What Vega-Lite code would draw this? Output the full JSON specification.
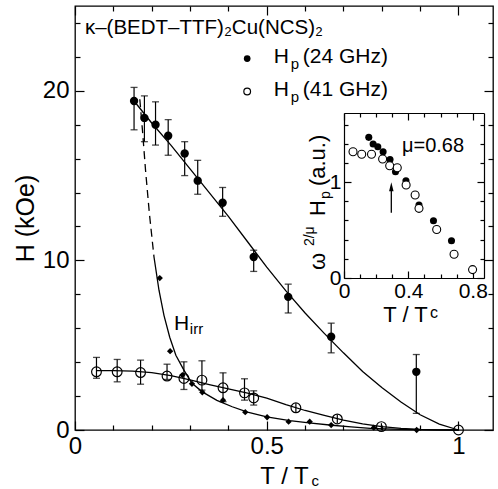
{
  "$schema": "https://vega.github.io/schema/vega-lite/v6.json",
  "background": "white",
  "padding": {"left": 13, "top": 5, "right": 2, "bottom": 2},
  "width": 418,
  "height": 424,
  "config": {
    "font": "Liberation Sans",
    "view": {"stroke": "black", "strokeWidth": 1.3},
    "axis": {"labelFont": "Liberation Sans", "titleFont": "Liberation Sans", "labelColor": "black", "titleColor": "black", "tickColor": "black", "tickWidth": 1.2, "titleFontWeight": "normal", "domain": false, "grid": false, "labelOverlap": false, "labelBound": false, "labelFlush": false, "domainColor": "black", "domainWidth": 1.2}
  },
  "datasets": {
    "curves": [
      {"t": 0.154, "h": 19.4, "c": "f24"}, {"t": 0.2, "h": 18.1, "c": "f24"}, {"t": 0.25, "h": 16.8, "c": "f24"}, {"t": 0.3, "h": 15.4, "c": "f24"}, {"t": 0.35, "h": 14.0, "c": "f24"}, {"t": 0.4, "h": 12.6, "c": "f24"}, {"t": 0.45, "h": 11.1, "c": "f24"}, {"t": 0.5, "h": 9.6, "c": "f24"}, {"t": 0.55, "h": 8.2, "c": "f24"}, {"t": 0.6, "h": 6.9, "c": "f24"}, {"t": 0.65, "h": 5.7, "c": "f24"}, {"t": 0.7, "h": 4.55, "c": "f24"}, {"t": 0.75, "h": 3.45, "c": "f24"}, {"t": 0.8, "h": 2.5, "c": "f24"}, {"t": 0.85, "h": 1.65, "c": "f24"}, {"t": 0.9, "h": 0.9, "c": "f24"}, {"t": 0.95, "h": 0.35, "c": "f24"}, {"t": 1.0, "h": 0.0, "c": "f24"},
      {"t": 0.056, "h": 3.5, "c": "f41"}, {"t": 0.1, "h": 3.5, "c": "f41"}, {"t": 0.15, "h": 3.47, "c": "f41"}, {"t": 0.2, "h": 3.38, "c": "f41"}, {"t": 0.25, "h": 3.2, "c": "f41"}, {"t": 0.3, "h": 2.95, "c": "f41"}, {"t": 0.35, "h": 2.68, "c": "f41"}, {"t": 0.4, "h": 2.42, "c": "f41"}, {"t": 0.45, "h": 2.17, "c": "f41"}, {"t": 0.5, "h": 1.88, "c": "f41"}, {"t": 0.55, "h": 1.5, "c": "f41"}, {"t": 0.6, "h": 1.15, "c": "f41"}, {"t": 0.65, "h": 0.86, "c": "f41"}, {"t": 0.7, "h": 0.58, "c": "f41"}, {"t": 0.75, "h": 0.36, "c": "f41"}, {"t": 0.8, "h": 0.2, "c": "f41"}, {"t": 0.85, "h": 0.1, "c": "f41"}, {"t": 0.9, "h": 0.04, "c": "f41"}, {"t": 0.95, "h": 0.01, "c": "f41"}, {"t": 1.0, "h": 0.0, "c": "f41"},
      {"t": 0.206, "h": 10.2, "c": "hirr"}, {"t": 0.219, "h": 8.24, "c": "hirr"}, {"t": 0.232, "h": 6.76, "c": "hirr"}, {"t": 0.247, "h": 5.47, "c": "hirr"}, {"t": 0.263, "h": 4.41, "c": "hirr"}, {"t": 0.284, "h": 3.53, "c": "hirr"}, {"t": 0.305, "h": 2.75, "c": "hirr"}, {"t": 0.332, "h": 2.25, "c": "hirr"}, {"t": 0.37, "h": 1.75, "c": "hirr"}, {"t": 0.41, "h": 1.37, "c": "hirr"}, {"t": 0.45, "h": 1.05, "c": "hirr"}, {"t": 0.5, "h": 0.78, "c": "hirr"}, {"t": 0.56, "h": 0.55, "c": "hirr"}, {"t": 0.61, "h": 0.42, "c": "hirr"}, {"t": 0.67, "h": 0.28, "c": "hirr"}, {"t": 0.72, "h": 0.18, "c": "hirr"}, {"t": 0.77, "h": 0.1, "c": "hirr"}, {"t": 0.85, "h": 0.04, "c": "hirr"}, {"t": 0.92, "h": 0.01, "c": "hirr"}, {"t": 1.0, "h": 0.0, "c": "hirr"},
      {"t": 0.169, "h": 19.5, "c": "hirrdash"}, {"t": 0.176, "h": 17.65, "c": "hirrdash"}, {"t": 0.184, "h": 15.3, "c": "hirrdash"}, {"t": 0.194, "h": 12.76, "c": "hirrdash"}, {"t": 0.206, "h": 10.2, "c": "hirrdash"}
    ],
    "err": [
      {"t": 0.154, "lo": 17.7, "hi": 20.2, "cap": true}, {"t": 0.181, "lo": 17.0, "hi": 19.7, "cap": true}, {"t": 0.21, "lo": 16.8, "hi": 19.35, "cap": true}, {"t": 0.243, "lo": 16.2, "hi": 18.3, "cap": true}, {"t": 0.286, "lo": 15.0, "hi": 17.0, "cap": true}, {"t": 0.32, "lo": 13.9, "hi": 15.9, "cap": true}, {"t": 0.385, "lo": 12.6, "hi": 14.3, "cap": true}, {"t": 0.466, "lo": 9.35, "hi": 10.6, "cap": true}, {"t": 0.556, "lo": 6.9, "hi": 8.6, "cap": true}, {"t": 0.668, "lo": 4.55, "hi": 6.3, "cap": true}, {"t": 0.89, "lo": 0.98, "hi": 4.45, "cap": true},
      {"t": 0.056, "lo": 3.05, "hi": 4.28, "cap": true}, {"t": 0.11, "lo": 2.84, "hi": 4.16, "cap": true}, {"t": 0.171, "lo": 2.7, "hi": 4.12, "cap": true}, {"t": 0.24, "lo": 2.98, "hi": 3.88, "cap": true}, {"t": 0.284, "lo": 2.39, "hi": 4.02, "cap": true}, {"t": 0.331, "lo": 2.35, "hi": 4.08, "cap": true}, {"t": 0.386, "lo": 1.67, "hi": 3.37, "cap": true}, {"t": 0.442, "lo": 1.76, "hi": 3.02, "cap": true}, {"t": 0.466, "lo": 1.47, "hi": 2.31, "cap": true}, {"t": 0.576, "lo": 1.05, "hi": 1.57, "cap": false}, {"t": 0.684, "lo": 0.4, "hi": 0.9, "cap": false}, {"t": 0.799, "lo": 0.0, "hi": 0.4, "cap": false}
    ],
    "pts24": [
      {"t": 0.154, "h": 19.4}, {"t": 0.181, "h": 18.4}, {"t": 0.21, "h": 18.0}, {"t": 0.243, "h": 17.35}, {"t": 0.286, "h": 16.3}, {"t": 0.32, "h": 14.7}, {"t": 0.385, "h": 13.4}, {"t": 0.466, "h": 10.2}, {"t": 0.556, "h": 7.85}, {"t": 0.668, "h": 5.5}, {"t": 0.89, "h": 3.43}
    ],
    "pts41": [
      {"t": 0.056, "h": 3.43}, {"t": 0.11, "h": 3.43}, {"t": 0.171, "h": 3.39}, {"t": 0.24, "h": 3.18}, {"t": 0.284, "h": 3.04}, {"t": 0.331, "h": 2.94}, {"t": 0.386, "h": 2.49}, {"t": 0.442, "h": 2.19}, {"t": 0.466, "h": 1.89}, {"t": 0.576, "h": 1.31}, {"t": 0.684, "h": 0.65}, {"t": 0.799, "h": 0.2}, {"t": 1.0, "h": 0.0}
    ],
    "diam": [
      {"t": 0.221, "h": 8.96}, {"t": 0.248, "h": 4.65}, {"t": 0.28, "h": 3.24}, {"t": 0.305, "h": 2.72}, {"t": 0.332, "h": 2.22}, {"t": 0.386, "h": 1.76}, {"t": 0.444, "h": 1.05}, {"t": 0.501, "h": 0.75}, {"t": 0.557, "h": 0.49}, {"t": 0.612, "h": 0.49}, {"t": 0.668, "h": 0.29}, {"t": 0.779, "h": 0.14}, {"t": 0.891, "h": 0.0}
    ],
    "legend24": [{"t": 0.449, "h": 21.9}],
    "legend41": [{"t": 0.449, "h": 19.96}],
    "txtTitle": [{"t": 0.026, "h": 23.35, "txt": "κ–(BEDT–TTF)₂Cu(NCS)₂"}],
    "txtBig": [
      {"t": 0.518, "h": 21.65, "txt": "H"}, {"t": 0.594, "h": 21.65, "txt": "(24 GHz)"},
      {"t": 0.518, "h": 19.7, "txt": "H"}, {"t": 0.594, "h": 19.7, "txt": "(41 GHz)"},
      {"t": 0.258, "h": 5.88, "txt": "H"}
    ],
    "txtSmall": [
      {"t": 0.5625, "h": 21.3, "txt": "p"}, {"t": 0.5625, "h": 19.35, "txt": "p"},
      {"t": 0.2995, "h": 5.65, "txt": "irr"}, {"t": 0.617, "h": -3.3, "txt": "c"}
    ],
    "inset24": [
      {"t": 0.154, "v": 1.466}, {"t": 0.181, "v": 1.396}, {"t": 0.21, "v": 1.368}, {"t": 0.243, "v": 1.316}, {"t": 0.286, "v": 1.236}, {"t": 0.32, "v": 1.107}, {"t": 0.385, "v": 1.013}, {"t": 0.466, "v": 0.76}, {"t": 0.556, "v": 0.597}, {"t": 0.668, "v": 0.389}
    ],
    "inset41": [
      {"t": 0.056, "v": 1.316}, {"t": 0.11, "v": 1.29}, {"t": 0.171, "v": 1.29}, {"t": 0.24, "v": 1.24}, {"t": 0.284, "v": 1.17}, {"t": 0.331, "v": 1.15}, {"t": 0.386, "v": 0.97}, {"t": 0.442, "v": 0.865}, {"t": 0.466, "v": 0.726}, {"t": 0.576, "v": 0.505}, {"t": 0.684, "v": 0.248}, {"t": 0.799, "v": 0.0875}
    ],
    "arrow": [{"t": 0.294, "lo": 0.68, "hi": 0.95}],
    "insetTxt": [{"t": 0.36, "v": 1.316, "txt": "μ=0.68"}],
    "insetSmall": [{"t": 0.535, "v": -0.42, "txt": "c"}],
    "insetRotBig": [
      {"t": -0.119, "v": 0.083, "txt": "ω"}, {"t": -0.119, "v": 0.646, "txt": "H"}, {"t": -0.119, "v": 0.958, "txt": " (a.u.)"}
    ],
    "insetRotSmall": [
      {"t": -0.1875, "v": 0.333, "txt": "2/μ"}, {"t": -0.0875, "v": 0.823, "txt": "p"}
    ]
  },
  "resolve": {"scale": {"x": "independent", "y": "independent"}, "axis": {"x": "independent", "y": "independent"}},
  "layer": [
    {
      "resolve": {"axis": {"x": "independent", "y": "independent"}},
      "layer": [
        {
          "data": {"name": "curves"},
          "transform": [{"filter": "datum.c != 'hirrdash'"}],
          "mark": {"type": "line", "color": "black", "strokeWidth": 1.3},
          "encoding": {
            "x": {"field": "t", "type": "quantitative", "scale": {"domain": [0, 1.09], "nice": false, "zero": false},
              "axis": {"orient": "bottom", "values": [0, 0.1, 0.2, 0.3, 0.4, 0.5, 0.6, 0.7, 0.8, 0.9, 1],
                "labelExpr": "datum.value == 0 ? '0' : datum.value == 0.5 ? '0.5' : datum.value == 1 ? '1' : ''",
                "tickSize": {"condition": {"test": "datum.value == 0 || datum.value == 0.5 || datum.value == 1", "value": -9}, "value": -5},
                "labelPadding": 13, "labelFontSize": 24, "title": "T / T", "titleFontSize": 24, "titlePadding": 2}},
            "y": {"field": "h", "type": "quantitative", "scale": {"domain": [0, 25], "nice": false, "zero": false},
              "axis": {"orient": "left", "values": [0, 2, 4, 6, 8, 10, 12, 14, 16, 18, 20, 22, 24],
                "labelExpr": "datum.value == 0 ? '0' : datum.value == 10 ? '10' : datum.value == 20 ? '20' : ''",
                "tickSize": {"condition": {"test": "datum.value == 0 || datum.value == 10 || datum.value == 20", "value": -9}, "value": -5},
                "labelPadding": 15, "labelFontSize": 24, "title": "H (kOe)", "titleFontSize": 25, "titlePadding": 4}},
            "detail": {"field": "c"},
            "order": {"field": "t", "type": "quantitative"}
          }
        },
        {
          "data": {"name": "curves"},
          "transform": [{"filter": "datum.c == 'hirrdash'"}],
          "mark": {"type": "line", "color": "black", "strokeWidth": 1.3, "strokeDash": [8, 5]},
          "encoding": {
            "x": {"field": "t", "type": "quantitative", "scale": {"domain": [0, 1.09], "nice": false, "zero": false},
              "axis": {"orient": "top", "values": [0, 0.1, 0.2, 0.3, 0.4, 0.5, 0.6, 0.7, 0.8, 0.9, 1], "labels": false, "title": null,
                "tickSize": {"condition": {"test": "datum.value == 0 || datum.value == 0.5 || datum.value == 1", "value": -9}, "value": -5}}},
            "y": {"field": "h", "type": "quantitative", "scale": {"domain": [0, 25], "nice": false, "zero": false},
              "axis": {"orient": "right", "values": [0, 2, 4, 6, 8, 10, 12, 14, 16, 18, 20, 22, 24], "labels": false, "title": null,
                "tickSize": {"condition": {"test": "datum.value == 0 || datum.value == 10 || datum.value == 20", "value": -9}, "value": -5}}},
            "order": {"field": "t", "type": "quantitative"}
          }
        },
        {
          "data": {"name": "err"},
          "mark": {"type": "rule", "color": "black", "strokeWidth": 1.2},
          "encoding": {
            "x": {"field": "t", "type": "quantitative", "scale": {"domain": [0, 1.09], "nice": false, "zero": false}, "axis": null},
            "y": {"field": "lo", "type": "quantitative", "scale": {"domain": [0, 25], "nice": false, "zero": false}, "axis": null},
            "y2": {"field": "hi"}
          }
        },
        {
          "data": {"name": "err"},
          "transform": [{"filter": "datum.cap"}],
          "mark": {"type": "tick", "orient": "horizontal", "color": "black", "size": 7, "thickness": 1.3},
          "encoding": {
            "x": {"field": "t", "type": "quantitative", "scale": {"domain": [0, 1.09], "nice": false, "zero": false}, "axis": null},
            "y": {"field": "lo", "type": "quantitative", "scale": {"domain": [0, 25], "nice": false, "zero": false}, "axis": null}
          }
        },
        {
          "data": {"name": "err"},
          "transform": [{"filter": "datum.cap"}],
          "mark": {"type": "tick", "orient": "horizontal", "color": "black", "size": 7, "thickness": 1.3},
          "encoding": {
            "x": {"field": "t", "type": "quantitative", "scale": {"domain": [0, 1.09], "nice": false, "zero": false}, "axis": null},
            "y": {"field": "hi", "type": "quantitative", "scale": {"domain": [0, 25], "nice": false, "zero": false}, "axis": null}
          }
        },
        {
          "data": {"name": "pts41"},
          "mark": {"type": "point", "filled": false, "color": "black", "size": 95, "strokeWidth": 1.2, "opacity": 1},
          "encoding": {
            "x": {"field": "t", "type": "quantitative", "scale": {"domain": [0, 1.09], "nice": false, "zero": false}, "axis": null},
            "y": {"field": "h", "type": "quantitative", "scale": {"domain": [0, 25], "nice": false, "zero": false}, "axis": null}
          }
        },
        {
          "data": {"name": "pts24"},
          "mark": {"type": "point", "filled": true, "color": "black", "size": 70, "opacity": 1},
          "encoding": {
            "x": {"field": "t", "type": "quantitative", "scale": {"domain": [0, 1.09], "nice": false, "zero": false}, "axis": null},
            "y": {"field": "h", "type": "quantitative", "scale": {"domain": [0, 25], "nice": false, "zero": false}, "axis": null}
          }
        },
        {
          "data": {"name": "diam"},
          "mark": {"type": "point", "shape": "diamond", "filled": true, "color": "black", "size": 40, "opacity": 1},
          "encoding": {
            "x": {"field": "t", "type": "quantitative", "scale": {"domain": [0, 1.09], "nice": false, "zero": false}, "axis": null},
            "y": {"field": "h", "type": "quantitative", "scale": {"domain": [0, 25], "nice": false, "zero": false}, "axis": null}
          }
        },
        {
          "data": {"name": "legend24"},
          "mark": {"type": "point", "filled": true, "color": "black", "size": 45, "opacity": 1},
          "encoding": {
            "x": {"field": "t", "type": "quantitative", "scale": {"domain": [0, 1.09], "nice": false, "zero": false}, "axis": null},
            "y": {"field": "h", "type": "quantitative", "scale": {"domain": [0, 25], "nice": false, "zero": false}, "axis": null}
          }
        },
        {
          "data": {"name": "legend41"},
          "mark": {"type": "point", "filled": false, "color": "black", "size": 45, "strokeWidth": 1.2, "opacity": 1},
          "encoding": {
            "x": {"field": "t", "type": "quantitative", "scale": {"domain": [0, 1.09], "nice": false, "zero": false}, "axis": null},
            "y": {"field": "h", "type": "quantitative", "scale": {"domain": [0, 25], "nice": false, "zero": false}, "axis": null}
          }
        },
        {
          "data": {"name": "txtTitle"},
          "mark": {"type": "text", "align": "left", "baseline": "alphabetic", "fontSize": 20.5, "color": "black"},
          "encoding": {
            "x": {"field": "t", "type": "quantitative", "scale": {"domain": [0, 1.09], "nice": false, "zero": false}, "axis": null},
            "y": {"field": "h", "type": "quantitative", "scale": {"domain": [0, 25], "nice": false, "zero": false}, "axis": null},
            "text": {"field": "txt"}
          }
        },
        {
          "data": {"name": "txtBig"},
          "mark": {"type": "text", "align": "left", "baseline": "alphabetic", "fontSize": 21, "color": "black"},
          "encoding": {
            "x": {"field": "t", "type": "quantitative", "scale": {"domain": [0, 1.09], "nice": false, "zero": false}, "axis": null},
            "y": {"field": "h", "type": "quantitative", "scale": {"domain": [0, 25], "nice": false, "zero": false}, "axis": null},
            "text": {"field": "txt"}
          }
        },
        {
          "data": {"name": "txtSmall"},
          "mark": {"type": "text", "align": "left", "baseline": "alphabetic", "fontSize": 15, "color": "black"},
          "encoding": {
            "x": {"field": "t", "type": "quantitative", "scale": {"domain": [0, 1.09], "nice": false, "zero": false}, "axis": null},
            "y": {"field": "h", "type": "quantitative", "scale": {"domain": [0, 25], "nice": false, "zero": false}, "axis": null},
            "text": {"field": "txt"}
          }
        }
      ]
    },
    {
      "resolve": {"axis": {"x": "independent", "y": "independent"}},
      "layer": [
        {
          "data": {"name": "inset24"},
          "mark": {"type": "point", "filled": true, "color": "black", "size": 50, "opacity": 1},
          "encoding": {
            "x": {"field": "t", "type": "quantitative", "scale": {"domain": [0, 0.87], "range": [269, 409], "nice": false, "zero": false},
              "axis": {"orient": "bottom", "offset": -152, "domain": true, "values": [0, 0.1, 0.2, 0.3, 0.4, 0.5, 0.6, 0.7, 0.8],
                "labelExpr": "datum.value == 0 ? '0' : datum.value == 0.4 ? '0.4' : datum.value == 0.8 ? '0.8' : ''",
                "tickSize": {"condition": {"test": "datum.value == 0 || datum.value == 0.4 || datum.value == 0.8", "value": -7}, "value": -4},
                "labelPadding": 9, "labelFontSize": 21, "title": "T / T", "titleFontSize": 22, "titlePadding": 0, "titleX": 330}},
            "y": {"field": "v", "type": "quantitative", "scale": {"domain": [0, 1.72], "range": [272, 107], "nice": false, "zero": false},
              "axis": {"orient": "left", "offset": -269, "domain": true, "values": [0, 0.2, 0.4, 0.6, 0.8, 1, 1.2, 1.4, 1.6],
                "labelExpr": "datum.value == 0 ? '0' : datum.value == 1 ? '1' : ''",
                "tickSize": {"condition": {"test": "datum.value == 0 || datum.value == 1", "value": -7}, "value": -4},
                "labelPadding": 10, "labelFontSize": 21, "title": null}}
          }
        },
        {
          "data": {"name": "inset41"},
          "mark": {"type": "point", "filled": false, "fill": "white", "color": "black", "size": 64, "strokeWidth": 1.1, "opacity": 1},
          "encoding": {
            "x": {"field": "t", "type": "quantitative", "scale": {"domain": [0, 0.87], "range": [269, 409], "nice": false, "zero": false},
              "axis": {"orient": "top", "offset": -107, "domain": true, "values": [0, 0.1, 0.2, 0.3, 0.4, 0.5, 0.6, 0.7, 0.8], "labels": false, "title": null,
                "tickSize": {"condition": {"test": "datum.value == 0 || datum.value == 0.4 || datum.value == 0.8", "value": -7}, "value": -4}}},
            "y": {"field": "v", "type": "quantitative", "scale": {"domain": [0, 1.72], "range": [272, 107], "nice": false, "zero": false},
              "axis": {"orient": "right", "offset": -9, "domain": true, "values": [0, 0.2, 0.4, 0.6, 0.8, 1, 1.2, 1.4, 1.6], "labels": false, "title": null,
                "tickSize": {"condition": {"test": "datum.value == 0 || datum.value == 1", "value": -7}, "value": -4}}}
          }
        },
        {
          "data": {"name": "arrow"},
          "mark": {"type": "rule", "color": "black", "strokeWidth": 1.3},
          "encoding": {
            "x": {"field": "t", "type": "quantitative", "scale": {"domain": [0, 0.87], "range": [269, 409], "nice": false, "zero": false}, "axis": null},
            "y": {"field": "lo", "type": "quantitative", "scale": {"domain": [0, 1.72], "range": [272, 107], "nice": false, "zero": false}, "axis": null},
            "y2": {"field": "hi"}
          }
        },
        {
          "data": {"name": "arrow"},
          "mark": {"type": "point", "shape": "M0,-1L-0.5,1L0.5,1Z", "filled": true, "color": "black", "size": 81, "opacity": 1},
          "encoding": {
            "x": {"field": "t", "type": "quantitative", "scale": {"domain": [0, 0.87], "range": [269, 409], "nice": false, "zero": false}, "axis": null},
            "y": {"field": "hi", "type": "quantitative", "scale": {"domain": [0, 1.72], "range": [272, 107], "nice": false, "zero": false}, "axis": null}
          }
        },
        {
          "data": {"name": "insetTxt"},
          "mark": {"type": "text", "align": "left", "baseline": "alphabetic", "fontSize": 20, "color": "black"},
          "encoding": {
            "x": {"field": "t", "type": "quantitative", "scale": {"domain": [0, 0.87], "range": [269, 409], "nice": false, "zero": false}, "axis": null},
            "y": {"field": "v", "type": "quantitative", "scale": {"domain": [0, 1.72], "range": [272, 107], "nice": false, "zero": false}, "axis": null},
            "text": {"field": "txt"}
          }
        },
        {
          "data": {"name": "insetSmall"},
          "mark": {"type": "text", "align": "left", "baseline": "alphabetic", "fontSize": 16, "color": "black"},
          "encoding": {
            "x": {"field": "t", "type": "quantitative", "scale": {"domain": [0, 0.87], "range": [269, 409], "nice": false, "zero": false}, "axis": null},
            "y": {"field": "v", "type": "quantitative", "scale": {"domain": [0, 1.72], "range": [272, 107], "nice": false, "zero": false}, "axis": null},
            "text": {"field": "txt"}
          }
        },
        {
          "data": {"name": "insetRotBig"},
          "mark": {"type": "text", "align": "left", "baseline": "alphabetic", "fontSize": 22, "angle": 270, "color": "black"},
          "encoding": {
            "x": {"field": "t", "type": "quantitative", "scale": {"domain": [0, 0.87], "range": [269, 409], "nice": false, "zero": false}, "axis": null},
            "y": {"field": "v", "type": "quantitative", "scale": {"domain": [0, 1.72], "range": [272, 107], "nice": false, "zero": false}, "axis": null},
            "text": {"field": "txt"}
          }
        },
        {
          "data": {"name": "insetRotSmall"},
          "mark": {"type": "text", "align": "left", "baseline": "alphabetic", "fontSize": 14, "angle": 270, "color": "black"},
          "encoding": {
            "x": {"field": "t", "type": "quantitative", "scale": {"domain": [0, 0.87], "range": [269, 409], "nice": false, "zero": false}, "axis": null},
            "y": {"field": "v", "type": "quantitative", "scale": {"domain": [0, 1.72], "range": [272, 107], "nice": false, "zero": false}, "axis": null},
            "text": {"field": "txt"}
          }
        }
      ]
    }
  ]
}
